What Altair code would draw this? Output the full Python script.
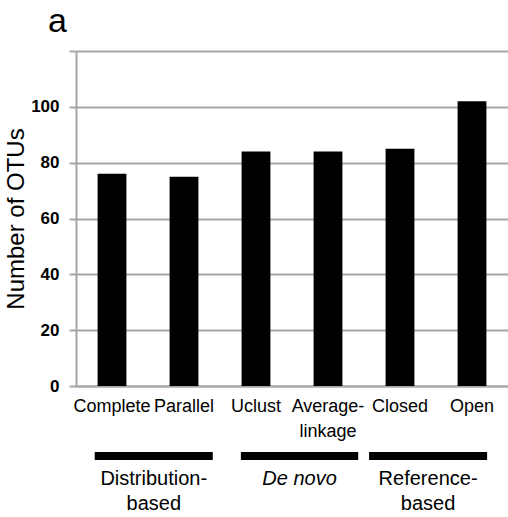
import altair as alt
import pandas as pd

# ---- data ----
methods = ["Complete", "Parallel", "Uclust", "Average-\nlinkage", "Closed", "Open"]
otus = [76, 75, 84, 84, 85, 102]
y_ticks = [0, 20, 40, 60, 80, 100, 120]

group_labels = ["Distribution-\nbased", "De novo", "Reference-\nbased"]
group_styles = ["normal", "italic", "normal"]
group_start = [0.26, 2.29, 4.07]   # in category-slot units (0..6)
group_end = [1.90, 3.92, 5.71]
panel_label = ["a"]

FONT = "Liberation Sans"
GRID = "#a6a6a6"

bars_df = pd.DataFrame({"method": methods, "otus": otus})
groups_df = pd.DataFrame({"label": group_labels, "style": group_styles,
                          "start": group_start, "end": group_end})
groups_df["mid"] = (groups_df["start"] + groups_df["end"]) / 2
panel_df = pd.DataFrame({"t": panel_label})

slot_scale = alt.Scale(domain=[0, 6], nice=False, zero=False)

bars = alt.Chart(bars_df).mark_bar(color="black").encode(
    x=alt.X("method:N", sort=methods, title=None,
            scale=alt.Scale(paddingInner=0.6, paddingOuter=0.3),
            axis=alt.Axis(labelAngle=0, labelExpr="split(datum.label, '\\n')",
                          labelFont=FONT, labelFontSize=18, labelColor="black",
                          labelPadding=11, labelLineHeight=25, labelOverlap=False,
                          ticks=False, domainColor=GRID, domainWidth=2, grid=False)),
    y=alt.Y("otus:Q", title="Number of OTUs",
            scale=alt.Scale(domain=[0, 120], nice=False),
            axis=alt.Axis(values=y_ticks,
                          labelExpr="datum.value == 120 ? '' : datum.label",
                          labelFont=FONT, labelFontSize=17, labelFontWeight="bold",
                          labelColor="black", labelPadding=10,
                          tickSize=7, tickColor=GRID, tickWidth=2,
                          domainColor=GRID, domainWidth=2,
                          gridColor=GRID, gridWidth=2,
                          titleFont=FONT, titleFontSize=24, titleFontWeight="normal",
                          titleColor="black", titlePadding=2)),
)

rules = alt.Chart(groups_df).mark_rule(color="black", strokeWidth=8, strokeCap="butt").encode(
    x=alt.X("start:Q", scale=slot_scale, axis=None),
    x2="end:Q",
    y=alt.value(405),
)

text_normal = alt.Chart(groups_df).transform_filter(alt.datum.style == "normal").mark_text(
    font=FONT, fontSize=20, baseline="top", align="center", lineBreak="\n",
    lineHeight=25, color="black").encode(
    x=alt.X("mid:Q", scale=slot_scale, axis=None),
    y=alt.value(418),
    text="label:N",
)

text_italic = alt.Chart(groups_df).transform_filter(alt.datum.style == "italic").mark_text(
    font=FONT, fontSize=20, fontStyle="italic", baseline="top", align="center",
    lineBreak="\n", lineHeight=25, color="black").encode(
    x=alt.X("mid:Q", scale=slot_scale, axis=None),
    y=alt.value(418),
    text="label:N",
)

panel = alt.Chart(panel_df).mark_text(
    font=FONT, fontSize=34, align="left", baseline="alphabetic", color="black").encode(
    x=alt.value(-28), y=alt.value(-19), text="t:N")

chart = alt.layer(bars, rules, text_normal, text_italic, panel).resolve_scale(
    x="independent"
).properties(
    width=432, height=335,
    padding={"left": 76, "top": 51, "right": 0, "bottom": 131},
    autosize=alt.AutoSizeParams(type="none"),
).configure_view(stroke=None)

chart.save("out.html", embed_options={"renderer": "svg", "actions": False})
